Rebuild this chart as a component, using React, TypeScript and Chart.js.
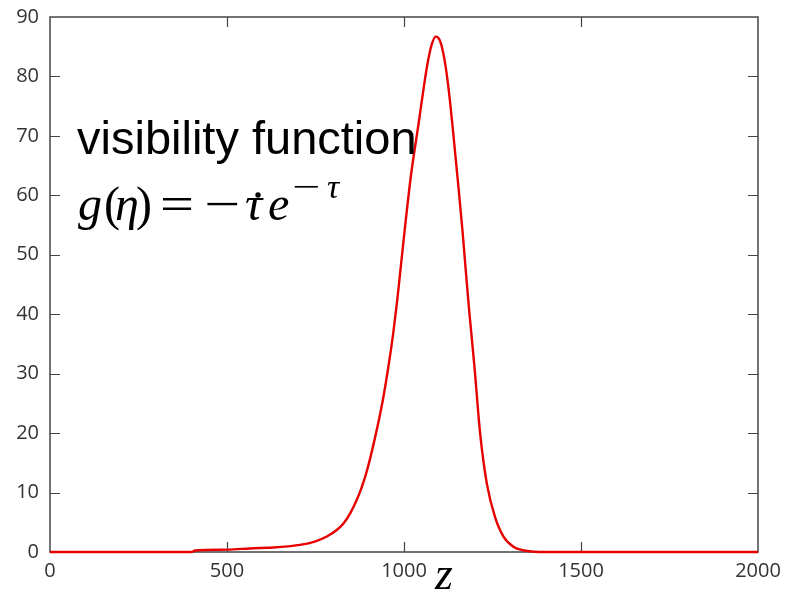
import React, { useEffect, useRef } from "react";
import { Chart, registerables } from "chart.js";

Chart.register(...registerables);

const zValues: number[] = [0, 400, 410, 500, 565, 640, 706, 750, 782, 810, 829, 848, 866, 880, 895, 918, 940, 956, 970, 981, 1002, 1020, 1041, 1053, 1066, 1078, 1090, 1100, 1110, 1119, 1130, 1139, 1152, 1165, 1175, 1184, 1199, 1215, 1234, 1257, 1281, 1309, 1336, 1370, 1400, 2000];
const gValues: number[] = [0, 0, 0.25, 0.4, 0.6, 0.8, 1.2, 1.8, 2.6, 3.7, 4.8, 6.5, 8.7, 10.8, 13.6, 19.2, 25.5, 31.2, 37, 42.4, 54.2, 63.5, 72, 77, 82, 85.3, 86.7, 86.2, 84.2, 81.1, 75.8, 70.5, 62.5, 54.2, 47, 40.7, 31.2, 20, 11.5, 5.9, 2.6, 0.9, 0.3, 0.05, 0, 0];
const xTicks: number[] = [0, 500, 1000, 1500, 2000];
const yTicks: number[] = [0, 10, 20, 30, 40, 50, 60, 70, 80, 90];
const titleText = "visibility function";
const xLabel = "z";

const framePlugin = {
  id: "frame",
  beforeDatasetsDraw(chart: any) {
    const { ctx, chartArea } = chart;
    const { left, right, top, bottom } = chartArea;
    const xs = chart.scales.x;
    const ys = chart.scales.y;
    ctx.save();
    ctx.strokeStyle = "#444";
    ctx.lineWidth = 1.5;
    ctx.strokeRect(left, top, right - left, bottom - top);
    ctx.lineWidth = 1.2;
    const L = 10;
    ctx.beginPath();
    xTicks.forEach((v) => {
      const px = Math.round(xs.getPixelForValue(v)) + 0.5;
      if (v !== xTicks[0] && v !== xTicks[xTicks.length - 1]) {
        ctx.moveTo(px, bottom);
        ctx.lineTo(px, bottom - L);
        ctx.moveTo(px, top);
        ctx.lineTo(px, top + L);
      }
    });
    yTicks.forEach((v) => {
      const py = Math.round(ys.getPixelForValue(v)) + 0.5;
      if (v !== yTicks[0] && v !== yTicks[yTicks.length - 1]) {
        ctx.moveTo(left, py);
        ctx.lineTo(left + L, py);
        ctx.moveTo(right, py);
        ctx.lineTo(right - L, py);
      }
    });
    ctx.stroke();
    ctx.restore();
  },
  afterDraw(chart: any) {
    const { ctx } = chart;
    ctx.save();
    ctx.fillStyle = "#000";
    ctx.textBaseline = "alphabetic";
    ctx.textAlign = "left";
    ctx.font = "47px 'Liberation Sans', Arial, sans-serif";
    ctx.fillText(titleText, 77, 154);

    // formula g(η) = −τ̇e^{−τ}
    const base = 220;
    const it = "italic 48px 'Liberation Serif', serif";
    const rm = "48px 'Liberation Serif', serif";
    const putAt = (s: string, f: string, x: number, y: number, w?: number) => {
      ctx.font = f;
      if (w) {
        const mw = ctx.measureText(s).width;
        ctx.save();
        ctx.translate(x, y);
        ctx.scale(w / mw, 1);
        ctx.fillText(s, 0, 0);
        ctx.restore();
      } else {
        ctx.fillText(s, x, y);
      }
    };
    putAt("g", it, 78, base);
    putAt("(", rm, 104, base);
    putAt("η", it, 115, base);
    putAt(")", rm, 136, base);
    putAt("=", rm, 160, base, 34);
    putAt("−", rm, 204, base, 36);
    putAt("τ", it, 245, base);
    ctx.beginPath();
    ctx.arc(258, 195, 2.7, 0, Math.PI * 2);
    ctx.fill();
    putAt("e", it, 268, base);
    putAt("−", "34px 'Liberation Serif', serif", 292, 198, 28);
    putAt("τ", "italic 34px 'Liberation Serif', serif", 327, 198);

    // x axis label
    ctx.font = "italic 46px 'Liberation Serif', serif";
    ctx.fillText(xLabel, 435, 589);
    ctx.restore();
  },
};

export default function App() {
  const ref = useRef<HTMLCanvasElement | null>(null);
  useEffect(() => {
    if (!ref.current) return;
    const data = zValues.map((z, i) => ({ x: z, y: gValues[i] }));
    const chart = new Chart(ref.current, {
      type: "line",
      data: {
        datasets: [
          {
            data,
            borderColor: "rgb(230,0,0)",
            borderWidth: 2.4,
            pointRadius: 0,
            cubicInterpolationMode: "monotone",
            fill: false,
            clip: 4,
          } as any,
        ],
      },
      options: {
        responsive: false,
        animation: false,
        maintainAspectRatio: false,
        layout: { padding: { left: 0, right: 27, top: 17, bottom: 0 } },
        plugins: { legend: { display: false }, tooltip: { enabled: false } },
        scales: {
          x: {
            type: "linear",
            min: 0,
            max: 2000,
            afterBuildTicks: (s: any) => {
              s.ticks = xTicks.map((v) => ({ value: v }));
            },
            afterFit: (s: any) => {
              s.height = 43;
              s.paddingLeft = 0;
              s.paddingRight = 0;
            },
            grid: { display: false, drawTicks: false },
            border: { display: false },
            ticks: {
              padding: 7,
              color: "#333",
              font: { family: "'Open Sans', sans-serif", size: 20 },
              maxRotation: 0,
              callback: (v: any) => String(v),
            },
          },
          y: {
            min: 0,
            max: 90,
            afterBuildTicks: (s: any) => {
              s.ticks = yTicks.map((v) => ({ value: v }));
            },
            afterFit: (s: any) => {
              s.width = 50;
              s.paddingTop = 0;
              s.paddingBottom = 0;
            },
            grid: { display: false, drawTicks: false },
            border: { display: false },
            ticks: {
              padding: 11,
              color: "#333",
              font: { family: "'Open Sans', sans-serif", size: 20 },
              callback: (v: any) => String(v),
            },
          },
        },
      },
      plugins: [framePlugin],
    });
    return () => chart.destroy();
  }, []);
  return (
    <div style={{ position: "fixed", left: 0, top: 0, width: 785, height: 595, background: "#fff" }}>
      <canvas ref={ref} width={785} height={595} />
    </div>
  );
}
